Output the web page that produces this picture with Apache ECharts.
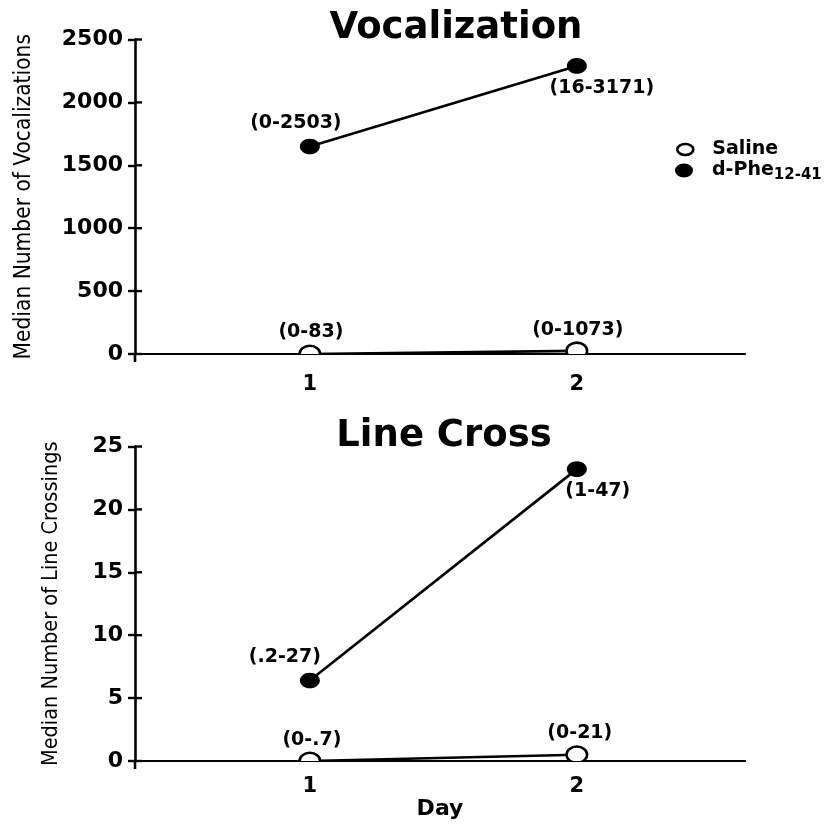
<!DOCTYPE html>
<html><head><meta charset="utf-8">
<script src="https://cdn.jsdelivr.net/npm/echarts@6/dist/echarts.min.js"></script>
<style>html,body{margin:0;padding:0;background:#fff}#c{width:827px;height:825px}</style>
</head><body><div id="c"></div><script>
// ---- data ----
const days = [1, 2];
const dayTicks = [1, 2];
const vocYTicks = [0, 500, 1000, 1500, 2000, 2500];
const lcYTicks = [0, 5, 10, 15, 20, 25];
const vocSaline = [0, 25];
const vocDphe = [1650, 2290];
const vocSalineRange = ['(0-83)', '(0-1073)'];
const vocDpheRange = ['(0-2503)', '(16-3171)'];
const lcSaline = [0, 0.5];
const lcDphe = [6.4, 23.2];
const lcSalineRange = ['(0-.7)', '(0-21)'];
const lcDpheRange = ['(.2-27)', '(1-47)'];
const titles = ['Vocalization', 'Line Cross'];
const yNames = ['Median Number of Vocalizations', 'Median Number of Line Crossings'];
const xName = 'Day';
const seriesNames = ['Saline', 'd-Phe'];
const xRange = [0.345, 2.63];

// ---- style ----
const BOLD = '"DejaVu Sans", "Liberation Sans", sans-serif';
const NARROW = '"Liberation Sans Narrow", "DejaVu Sans Condensed", "Liberation Sans", sans-serif';
const ELL = 'path://M0,50A50,50,0,1,1,100,50A50,50,0,1,1,0,50Z';

const chart = echarts.init(document.getElementById('c'), null, {renderer: 'canvas'});

function pts(vals) { return days.map((d, i) => [d, vals[i]]); }

function markerSeries(name, gi, vals, ranges, filled, offsets) {
  return {
    name: name, type: 'custom', xAxisIndex: gi, yAxisIndex: gi, clip: true, z: 5,
    data: pts(vals),
    renderItem: function (params, api) {
      const p = api.coord([api.value(0), api.value(1)]);
      const o = offsets[params.dataIndex];
      return {
        type: 'group',
        children: [
          filled
            ? {type: 'ellipse', shape: {cx: p[0], cy: p[1], rx: 10, ry: 7.8}, style: {fill: '#000'}}
            : {type: 'ellipse', shape: {cx: p[0], cy: p[1], rx: 10.3, ry: 8.2}, style: {fill: '#fff', stroke: '#000', lineWidth: 2.6}},
          {type: 'text', x: p[0] + o[0], y: p[1] + o[1],
           style: {text: ranges[params.dataIndex], fill: '#000', fontSize: 19, fontWeight: 'bold', fontFamily: BOLD, align: 'center', verticalAlign: 'middle'}}
        ]
      };
    }
  };
}

// inner half of the crossing y ticks (and the short axis stub under zero)
function innerTickSeries(gi, ticks) {
  return {
    type: 'custom', xAxisIndex: gi, yAxisIndex: gi, clip: false, z: 1, silent: true,
    data: ticks.map(t => [xRange[0], t]),
    renderItem: function (params, api) {
      const p = api.coord([api.value(0), api.value(1)]);
      const kids = [{type: 'line', shape: {x1: p[0], y1: p[1], x2: p[0] + 7, y2: p[1]}, style: {stroke: '#000', lineWidth: 2.4}}];
      if (params.dataIndex === 0) {
        kids.push({type: 'line', shape: {x1: p[0], y1: p[1], x2: p[0], y2: p[1] + 8}, style: {stroke: '#000', lineWidth: 2.6}});
      }
      return {type: 'group', children: kids};
    }
  };
}

function lineSeries(name, gi, vals) {
  return {name: name, type: 'line', xAxisIndex: gi, yAxisIndex: gi, data: pts(vals),
    symbol: 'none', lineStyle: {color: '#000', width: 2.6}, itemStyle: {color: '#000'}, animation: false, z: 3};
}

function yAxis(gi, ticks, name, nameGap, nameSize) {
  return {
    type: 'value', gridIndex: gi, position: 'left', min: ticks[0], max: ticks[ticks.length - 1],
    interval: ticks[1] - ticks[0], splitLine: {show: false},
    name: name, nameLocation: 'middle', nameGap: nameGap, nameRotate: 90,
    nameTextStyle: {fontFamily: NARROW, fontSize: nameSize, color: '#000'},
    axisLine: {show: true, lineStyle: {color: '#000', width: 2.6}},
    axisTick: {show: true, length: 7, lineStyle: {color: '#000', width: 2.4}},
    axisLabel: {color: '#000', fontSize: 22, fontWeight: 'bold', fontFamily: BOLD, margin: 12,
      formatter: v => String(v)}
  };
}

function xAxis(gi, margin, withName) {
  const ax = {type: 'value', gridIndex: gi, min: xRange[0], max: xRange[1],
    splitLine: {show: false}, axisTick: {show: false},
    axisLine: {onZero: false, lineStyle: {color: '#000', width: 2.2}},
    axisLabel: {color: '#000', fontSize: 21, fontWeight: 'bold', fontFamily: BOLD, margin: margin,
      showMinLabel: false, showMaxLabel: false,
      formatter: v => dayTicks.some(t => Math.abs(t - v) < 1e-6) ? String(Math.round(v)) : ''}};
  if (withName) {
    ax.name = xName; ax.nameLocation = 'middle'; ax.nameGap = 35;
    ax.nameTextStyle = {color: '#000', fontSize: 22, fontWeight: 'bold', fontFamily: BOLD};
  }
  return ax;
}

const legendText = {color: '#000', fontSize: 18, fontWeight: 'bold', fontFamily: BOLD, padding: [0, 0, 0, 14],
  rich: {n: {fontSize: 19, fontWeight: 'bold', fontFamily: BOLD, color: '#000', lineHeight: 24},
         s: {fontSize: 15, fontWeight: 'bold', fontFamily: BOLD, color: '#000', lineHeight: 15, verticalAlign: 'bottom'}}};

const option = {
  backgroundColor: '#fff',
  animation: false,
  title: [
    {text: titles[0], left: 451, top: 5, textAlign: 'center', textStyle: {fontFamily: BOLD, fontSize: 37, fontWeight: 'bold', color: '#000'}},
    {text: titles[1], left: 439, top: 413, textAlign: 'center', textStyle: {fontFamily: BOLD, fontSize: 37, fontWeight: 'bold', color: '#000'}}
  ],
  legend: [
    {data: [{name: seriesNames[0], icon: ELL, itemStyle: {color: '#fff', borderColor: '#000', borderWidth: 2.6}}],
     left: 676, top: 140, padding: 0, itemWidth: 16, itemHeight: 11, symbolKeepAspect: false, selectedMode: false,
     textStyle: legendText, formatter: n => '{n|' + n + '}'},
    {data: [{name: seriesNames[1], icon: ELL, itemStyle: {color: '#000'}}],
     left: 675, top: 161, padding: 0, itemWidth: 18, itemHeight: 14, symbolKeepAspect: false, selectedMode: false,
     textStyle: legendText, formatter: n => '{n|' + n + '}{s|12-41}'}
  ],
  grid: [
    {left: 135, right: 82, top: 39.5, height: 314.5},
    {left: 135, right: 82, top: 446.5, height: 314.5}
  ],
  xAxis: [xAxis(0, 20, false), xAxis(1, 15, true)],
  yAxis: [yAxis(0, vocYTicks, yNames[0], 99, 22.5), yAxis(1, lcYTicks, yNames[1], 73, 21.5)],
  series: [
    innerTickSeries(0, vocYTicks),
    innerTickSeries(1, lcYTicks),
    lineSeries(seriesNames[0], 0, vocSaline),
    lineSeries(seriesNames[1], 0, vocDphe),
    markerSeries(seriesNames[0], 0, vocSaline, vocSalineRange, false, [[1, -22], [1, -21]]),
    markerSeries(seriesNames[1], 0, vocDphe, vocDpheRange, true, [[-14, -23], [25, 22]]),
    lineSeries(seriesNames[0], 1, lcSaline),
    lineSeries(seriesNames[1], 1, lcDphe),
    markerSeries(seriesNames[0], 1, lcSaline, lcSalineRange, false, [[2, -21], [3, -22]]),
    markerSeries(seriesNames[1], 1, lcDphe, lcDpheRange, true, [[-25, -23], [21, 22]])
  ]
};
chart.setOption(option);
</script></body></html>
